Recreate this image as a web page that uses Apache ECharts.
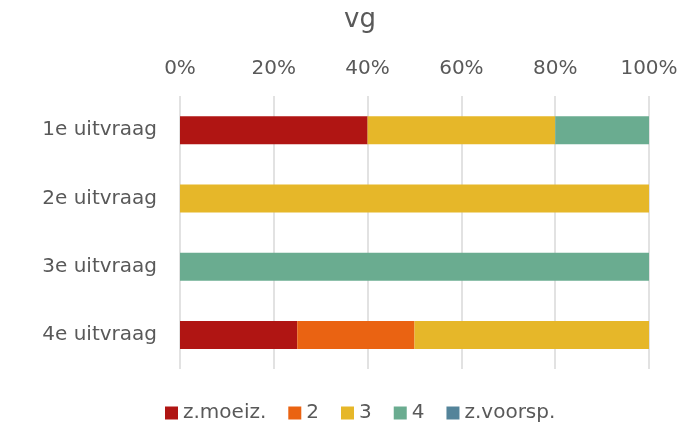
<!DOCTYPE html>
<html>
<head>
<meta charset="utf-8">
<script src="https://cdn.jsdelivr.net/npm/echarts@6/dist/echarts.min.js"></script>
<style>
  html, body { margin: 0; padding: 0; background: #fff; }
  #chart { width: 683px; height: 432px; }
</style>
</head>
<body>
<div id="chart"></div>
<script>
// Survey rounds (top to bottom) and share per answer category, in percent
const categories = ['1e uitvraag', '2e uitvraag', '3e uitvraag', '4e uitvraag'];
const seriesNames = ['z.moeiz.', '2', '3', '4', 'z.voorsp.'];
const zMoeiz   = [40, 0, 0, 25];
const twee     = [0, 0, 0, 25];
const drie     = [40, 100, 0, 50];
const vier     = [20, 0, 100, 0];
const zVoorsp  = [0, 0, 0, 0];
const tickValues = [0, 20, 40, 60, 80, 100];

const colors = ['#B01513', '#EA6312', '#E6B729', '#6AAC90', '#54849A'];
const values = [zMoeiz, twee, drie, vier, zVoorsp];
const textColor = '#595959';
const font = 'DejaVu Sans';

const chart = echarts.init(document.getElementById('chart'), null, { renderer: 'canvas' });
chart.setOption({
  animation: false,
  color: colors,
  title: {
    text: 'vg',
    left: 339,
    top: 2,
    textStyle: { color: textColor, fontFamily: font, fontWeight: 'normal', fontSize: 26 }
  },
  legend: {
    bottom: 4,
    left: 160,
    itemWidth: 13,
    itemHeight: 13,
    itemGap: 22,
    icon: 'rect',
    textStyle: { color: textColor, fontFamily: font, fontSize: 20 },
    data: seriesNames
  },
  grid: { left: 180, right: 34, top: 96, bottom: 63, containLabel: false },
  xAxis: {
    type: 'value',
    position: 'top',
    min: 0,
    max: 100,
    interval: 20,
    axisLine: { show: false },
    axisTick: { show: false },
    splitLine: { lineStyle: { color: '#D9D9D9', width: 1.5 } },
    axisLabel: {
      color: textColor, fontFamily: font, fontSize: 20, margin: 17,
      formatter: v => tickValues.includes(v) ? v + '%' : ''
    }
  },
  yAxis: {
    type: 'category',
    inverse: true,
    data: categories,
    axisLine: { show: false },
    axisTick: { show: false },
    axisLabel: { color: textColor, fontFamily: font, fontSize: 20, margin: 23 }
  },
  series: seriesNames.map((name, i) => ({
    name,
    type: 'bar',
    stack: 'total',
    barWidth: 28,
    data: values[i],
    itemStyle: { color: colors[i] }
  }))
});
</script>
</body>
</html>
